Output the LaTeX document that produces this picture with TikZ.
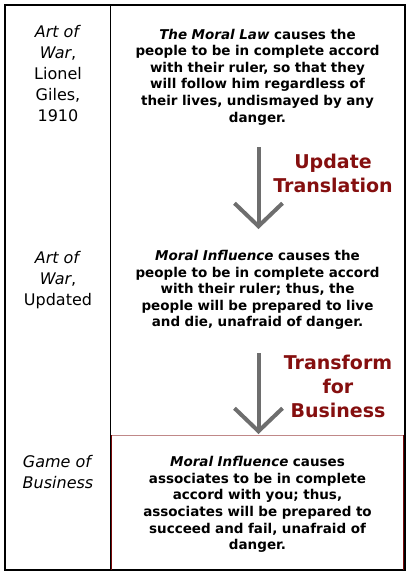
\documentclass[tikz,border=0pt]{standalone}
\usepackage{fontspec}
\setmainfont{DejaVu Sans}
\usetikzlibrary{arrows.meta}
\definecolor{flowgrey}{HTML}{6E6E6E}
\definecolor{stepred}{HTML}{850F0F}
\definecolor{boxred}{HTML}{7A0A0A}
\definecolor{boxtop}{HTML}{C08888}
\begin{document}
\begin{tikzpicture}[x=1pt,y=-1pt,
  frame/.style={line width=2pt,black},
  source/.style={align=center,inner sep=0pt,
    font=\fontsize{16}{21}\selectfont},
  passage/.style={align=center,text width=290pt,inner sep=0pt,
    font=\bfseries\fontsize{13.5}{16.6}\selectfont},
  steplabel/.style={align=center,inner sep=0pt,text=stepred,
    font=\bfseries\fontsize{19}{24}\selectfont},
  flow/.style={line width=4pt,flowgrey,
    -{Straight Barb[length=23pt,width=48pt,line width=4pt]}}]
\useasboundingbox (0,0) rectangle (411,576);

% outer frame and column divider
\draw[frame] (4.5,4.5) rectangle (404.5,570);
\draw[line width=1.5pt] (110.5,4.5) -- (110.5,570);

% highlighted final row
\draw[boxtop,line width=0.8pt] (111,435) -- (404,435);
\draw[boxred,line width=1.4pt] (111.5,435) -- (111.5,569.5);
\draw[boxred,line width=1.4pt] (403.5,435) -- (403.5,569.5);

% source labels
\node[source] (src1) at (58,73.5) {\textit{Art of}\\\textit{War},\\Lionel\\Giles,\\1910};
\node[source] (src2) at (58,280) {\textit{Art of}\\\textit{War},\\Updated};
\node[source] (src3) at (58,472) {\textit{Game of}\\\textit{Business}};

% passages
\node[passage] (p1) at (257.5,77) {\textit{The Moral Law} causes the\\
people to be in complete accord\\
with their ruler, so that they\\
will follow him regardless of\\
their lives, undismayed by any\\
danger.};
\node[passage] (p2) at (257.5,290) {\textit{Moral Influence} causes the\\
people to be in complete accord\\
with their ruler; thus, the\\
people will be prepared to live\\
and die, unafraid of danger.};
\node[passage] (p3) at (257.5,504.5) {\textit{Moral Influence} causes\\
associates to be in complete\\
accord with you; thus,\\
associates will be prepared to\\
succeed and fail, unafraid of\\
danger.};

% transformation steps
\coordinate (a1s) at (258.5,147);
\coordinate (a1e) at (258.5,229);
\coordinate (a2s) at (258.5,353);
\coordinate (a2e) at (258.5,434);
\draw[flow] (a1s) -- (a1e);
\draw[flow] (a2s) -- (a2e);
\node[steplabel] (l1) at (333,173.5) {Update\\Translation};
\node[steplabel] (l2) at (338,386) {Transform\\for\\Business};
\end{tikzpicture}
\end{document}
